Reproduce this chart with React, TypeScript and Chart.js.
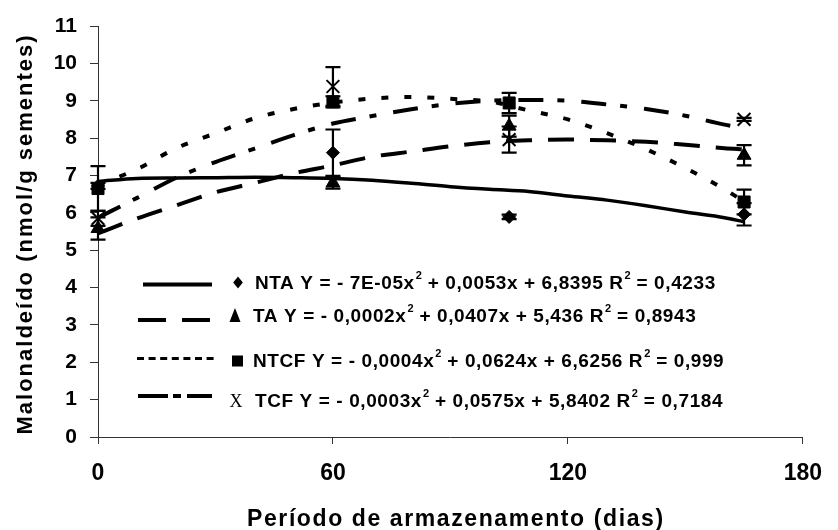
import React, { useEffect, useRef } from 'react';
import { Chart, registerables } from 'chart.js';

Chart.register(...registerables);

// ---------- data ----------
const days = [0, 60, 105, 165];

const ntaMeans = [6.72, 7.61, 5.89, 5.96];
const ntaErrors = [0.08, 0.62, 0.06, 0.3];
const taMeans = [5.58, 6.8, 8.32, 7.54];
const taErrors = [0.3, 0.15, 0.28, 0.27];
const ntcfMeans = [6.65, 8.97, 8.94, 6.29];
const ntcfErrors = [0.6, 0.15, 0.27, 0.33];
const tcfMeans = [5.85, 9.38, 7.96, 8.5];
const tcfErrors = [0.2, 0.52, 0.35, 0.04];

// fitted curves as drawn in the figure
const trendDays = [0, 10, 20, 30, 40, 50, 60, 70, 80, 90, 100, 110, 120, 130, 140, 150, 160, 165];
const ntaTrend = [6.84, 6.92, 6.93, 6.94, 6.95, 6.94, 6.92, 6.87, 6.79, 6.7, 6.63, 6.57, 6.45, 6.34, 6.19, 6.02, 5.87, 5.76];
const taTrend = [5.45, 5.85, 6.2, 6.55, 6.8, 7.06, 7.27, 7.5, 7.64, 7.78, 7.89, 7.94, 7.96, 7.94, 7.9, 7.82, 7.73, 7.7];
const ntcfTrend = [6.75, 7.17, 7.73, 8.13, 8.53, 8.78, 8.95, 9.06, 9.1, 9.05, 8.98, 8.74, 8.5, 8.13, 7.7, 7.2, 6.63, 6.3];
const tcfTrend = [5.87, 6.4, 6.94, 7.36, 7.72, 8.08, 8.39, 8.59, 8.77, 8.92, 9.0, 9.02, 9.0, 8.9, 8.78, 8.6, 8.36, 8.27];

const xTickValues = [0, 60, 120, 180];
const yMin = 0;
const yMax = 11;

const seriesNames = ['NTA', 'TA', 'NTCF', 'TCF'];
const legendLabels = [
  'NTA Y = - 7E-05x^2 + 0,0053x + 6,8395 R^2 = 0,4233',
  'TA Y = - 0,0002x^2 + 0,0407x + 5,436 R^2 = 0,8943',
  'NTCF Y = - 0,0004x^2 + 0,0624x + 6,6256 R^2 = 0,999',
  'TCF Y = - 0,0003x^2 + 0,0575x + 5,8402 R^2 = 0,7184',
];
const xTitle = 'Período de armazenamento (dias)';
const yTitle = 'Malonaldeído (nmol/g sementes)';

// ---------- styles ----------
const FONT = '"Liberation Sans", Arial, Helvetica, sans-serif';
const dashes = [[], [26, 16], [7, 16], [25, 14, 7, 17]];
const lineWidths = [3.5, 4, 4, 4];
const pointStyles = ['rectRot', 'triangle', 'rect', 'crossRot'];
const pointRadii = [6.5, 8, 8.5, 9];

const pointSeries = [
  { means: ntaMeans, errors: ntaErrors },
  { means: taMeans, errors: taErrors },
  { means: ntcfMeans, errors: ntcfErrors },
  { means: tcfMeans, errors: tcfErrors },
];
const trendSeries = [ntaTrend, taTrend, ntcfTrend, tcfTrend];

const errorBarPlugin = {
  id: 'errorBars',
  afterDatasetsDraw(chart: any) {
    const { ctx, scales } = chart;
    const x = scales.x;
    const y = scales.y;
    ctx.save();
    ctx.strokeStyle = '#000';
    ctx.lineWidth = 2.2;
    ctx.setLineDash([]);
    pointSeries.forEach((s) => {
      s.means.forEach((m, i) => {
        const px = x.getPixelForValue(days[i]);
        const top = y.getPixelForValue(m + s.errors[i]);
        const bot = y.getPixelForValue(m - s.errors[i]);
        ctx.beginPath();
        ctx.moveTo(px, top);
        ctx.lineTo(px, bot);
        ctx.moveTo(px - 7.5, top);
        ctx.lineTo(px + 7.5, top);
        ctx.moveTo(px - 7.5, bot);
        ctx.lineTo(px + 7.5, bot);
        ctx.stroke();
      });
    });
    ctx.restore();
  },
};

function drawRich(ctx: CanvasRenderingContext2D, text: string, x: number, y: number) {
  const parts = text.split('^2');
  let cx = x;
  parts.forEach((p, idx) => {
    ctx.font = `bold 19px ${FONT}`;
    (ctx as any).letterSpacing = '0.6px';
    ctx.fillText(p, cx, y);
    cx += ctx.measureText(p).width;
    if (idx < parts.length - 1) {
      ctx.font = `bold 11px ${FONT}`;
      (ctx as any).letterSpacing = '0px';
      ctx.fillText('2', cx + 1, y - 10);
      cx += ctx.measureText('2').width + 1;
    }
  });
}

const legendRows = [
  { lineY: 284.5, x1: 143, x2: 212, markerX: 238, markerY: 282.5, textX: 255, baseY: 288.5, lw: 4 },
  { lineY: 320, x1: 138, x2: 212, markerX: 235, markerY: 315, textX: 253, baseY: 322, lw: 4 },
  { lineY: 358.5, x1: 137, x2: 218, markerX: 237.5, markerY: 361, textX: 253, baseY: 367, lw: 3 },
  { lineY: 396, x1: 138, x2: 212, markerX: 236, markerY: 401, textX: 255, baseY: 407, lw: 4 },
];
const legendDashes = [[], [28, 16], [7, 4.6], [30, 5, 8, 6]];

const annotationPlugin = {
  id: 'annotations',
  afterDraw(chart: any) {
    const ctx: CanvasRenderingContext2D = chart.ctx;
    ctx.save();
    ctx.fillStyle = '#000';
    ctx.strokeStyle = '#000';
    // legend
    legendRows.forEach((r, i) => {
      ctx.lineWidth = r.lw;
      ctx.setLineDash(legendDashes[i]);
      ctx.beginPath();
      ctx.moveTo(r.x1, r.lineY);
      ctx.lineTo(r.x2, r.lineY);
      ctx.stroke();
      ctx.setLineDash([]);
      const mx = r.markerX;
      const my = r.markerY;
      ctx.beginPath();
      if (i === 0) {
        ctx.moveTo(mx, my - 6);
        ctx.lineTo(mx + 4.8, my);
        ctx.lineTo(mx, my + 6);
        ctx.lineTo(mx - 4.8, my);
        ctx.closePath();
        ctx.fill();
      } else if (i === 1) {
        ctx.moveTo(mx, my - 7);
        ctx.lineTo(mx + 5.5, my + 7);
        ctx.lineTo(mx - 5.5, my + 7);
        ctx.closePath();
        ctx.fill();
      } else if (i === 2) {
        ctx.fillRect(mx - 5.5, my - 5.5, 11, 11);
      } else {
        ctx.font = `18px "Liberation Serif", "Times New Roman", serif`;
        (ctx as any).letterSpacing = '0px';
        ctx.textAlign = 'center';
        ctx.textBaseline = 'alphabetic';
        ctx.fillText('X', mx, r.baseY);
      }
      ctx.textAlign = 'left';
      ctx.textBaseline = 'alphabetic';
      drawRich(ctx, legendLabels[i], r.textX, r.baseY);
    });
    // axis titles
    ctx.font = `bold 23px ${FONT}`;
    (ctx as any).letterSpacing = '1.6px';
    ctx.textAlign = 'left';
    ctx.textBaseline = 'alphabetic';
    ctx.fillText(xTitle, 247, 526);

    ctx.font = `bold 22px ${FONT}`;
    (ctx as any).letterSpacing = '2px';
    const w = ctx.measureText(yTitle).width;
    ctx.translate(32, 234);
    ctx.rotate(-Math.PI / 2);
    ctx.fillText(yTitle, -w / 2, 0);
    ctx.restore();
  },
};

export default function App() {
  const canvasRef = useRef<HTMLCanvasElement | null>(null);

  useEffect(() => {
    if (!canvasRef.current) return;
    const datasets: any[] = [];
    trendSeries.forEach((t, i) => {
      datasets.push({
        label: seriesNames[i] + ' tendência',
        data: trendDays.map((d, k) => ({ x: d, y: t[k] })),
        borderColor: '#000',
        borderWidth: lineWidths[i],
        borderDash: dashes[i],
        pointRadius: 0,
        fill: false,
        cubicInterpolationMode: 'monotone',
        order: 2,
      });
    });
    pointSeries.forEach((s, i) => {
      datasets.push({
        label: seriesNames[i],
        data: days.map((d, k) => ({ x: d, y: s.means[k] })),
        showLine: false,
        pointStyle: pointStyles[i],
        pointRadius: pointRadii[i],
        pointBackgroundColor: '#000',
        pointBorderColor: '#000',
        pointBorderWidth: i === 3 ? 2 : 1,
        clip: false,
        order: 1,
      });
    });

    const chart = new Chart(canvasRef.current, {
      type: 'line',
      data: { datasets },
      options: {
        responsive: false,
        animation: false,
        devicePixelRatio: 1,
        layout: { padding: { top: 26, right: 26, left: 0, bottom: 0 } },
        plugins: { legend: { display: false }, tooltip: { enabled: false } },
        scales: {
          x: {
            type: 'linear',
            min: 0,
            max: 180,
            afterBuildTicks: (scale: any) => {
              scale.ticks = xTickValues.map((v) => ({ value: v }));
            },
            afterFit: (scale: any) => {
              scale.height = 93;
            },
            grid: { drawOnChartArea: false, drawTicks: true, tickLength: 7, color: '#333', lineWidth: 1 },
            border: { display: true, color: '#333', width: 1 },
            ticks: {
              color: '#000',
              font: { family: FONT, size: 23, weight: 'bold' },
              padding: 16,
              maxRotation: 0,
            },
          },
          y: {
            type: 'linear',
            min: yMin,
            max: yMax,
            afterFit: (scale: any) => {
              scale.width = 98;
            },
            grid: { drawOnChartArea: false, drawTicks: true, tickLength: 8, color: '#333', lineWidth: 1 },
            border: { display: true, color: '#333', width: 1 },
            ticks: {
              color: '#000',
              stepSize: 1,
              font: { family: FONT, size: 21, weight: 'bold' },
              padding: 13,
            },
          },
        },
      },
      plugins: [errorBarPlugin, annotationPlugin],
    } as any);
    return () => chart.destroy();
  }, []);

  return (
    <div style={{ position: 'absolute', left: 0, top: 0, width: 838, height: 530, background: '#fff' }}>
      <canvas ref={canvasRef} width={838} height={530} />
    </div>
  );
}
